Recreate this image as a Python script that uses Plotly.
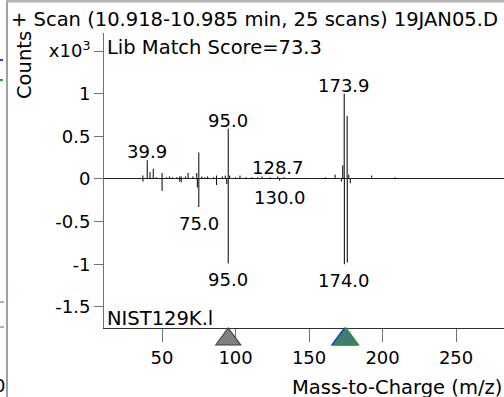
import plotly.graph_objects as go

# ---- data (x10^3 counts) ----
sample_mz = [36.9, 39.9, 41.8, 44.0, 46.0, 50.0, 53.0, 55.0, 57.0, 60.0, 62.0, 63.0,
             66.0, 67.7, 71.0, 73.6, 75.0, 77.0, 79.0, 81.0, 85.0, 87.0, 91.0, 93.0,
             95.0, 96.0, 100.0, 103.0, 107.0, 111.0, 115.0, 118.0, 123.5, 128.7, 133.0,
             140.0, 147.0, 155.0, 161.0, 167.7, 172.9, 173.9, 175.9, 177.0, 192.6, 208.5]
sample_int = [0.04, 0.22, 0.08, 0.12, 0.02, 0.07, 0.02, 0.03, 0.02, 0.02, 0.03, 0.03,
              0.03, 0.07, 0.03, 0.07, 0.31, 0.03, 0.02, 0.03, 0.02, 0.04, 0.03, 0.04,
              0.59, 0.04, 0.02, 0.04, 0.02, 0.02, 0.02, 0.03, 0.02, 0.03, 0.02,
              0.01, 0.01, 0.01, 0.02, 0.05, 0.16, 1.00, 0.74, 0.05, 0.04, 0.02]

library_mz = [37.0, 50.0, 62.0, 63.0, 74.0, 75.0, 87.0, 94.0, 95.0, 130.0, 172.0, 174.0, 176.0, 178.0]
library_int = [-0.03, -0.14, -0.03, -0.04, -0.10, -0.33, -0.07, -0.06, -0.99, -0.02, -0.03, -1.00, -0.98, -0.05]

sample_labels = [39.9, 95.0, 128.7, 173.9]
library_labels = [75.0, 95.0, 130.0, 174.0]

x_ticks = [50, 100, 150, 200, 250]
y_ticks = [-1.5, -1, -0.5, 0, 0.5, 1, 1.5]
y_ticktext = ["-1.5", "-1", "-0.5", "0", "0.5", "1", "x10<sup>3</sup>"]

title_text = "+ Scan (10.918-10.985 min, 25 scans) 19JAN05.D"
score_text = "Lib Match Score=73.3"
lib_text = "NIST129K.l"
marker_gray = [95.0]
marker_blue = [173.9]
marker_green = [175.2]

# ---- layout geometry ----
W, H = 504, 397
L, R, T, B = 104, 0, 33, 69
pw, ph = W - L - R, H - T - B
XR = [10.5, 282.6]
YR = [-1.747, 1.711]
FONT = "DejaVu Sans"
TXT = 19.5


def px(x):
    return (x - L) / pw


def py(y):
    return (H - B - y) / ph


def stems(mz, inten):
    xs, ys = [], []
    for m, v in zip(mz, inten):
        xs += [m, m, None]
        ys += [0, v, None]
    return xs, ys


fig = go.Figure()
sx, sy = stems(sample_mz, sample_int)
fig.add_trace(go.Scatter(x=sx, y=sy, mode="lines", line=dict(color="black", width=1),
                         hoverinfo="skip", showlegend=False))
lx, ly = stems(library_mz, library_int)
fig.add_trace(go.Scatter(x=lx, y=ly, mode="lines", line=dict(color="black", width=1),
                         hoverinfo="skip", showlegend=False))

ann = []
for lab in sample_labels:
    v = max(i for m, i in zip(sample_mz, sample_int) if abs(m - lab) < 0.3)
    ann.append(dict(x=lab, y=v, text=f"{lab:.1f}", showarrow=False, xanchor="center",
                    yanchor="bottom", yshift=-4, font=dict(family=FONT, size=18, color="black")))
for lab in library_labels:
    v = min(i for m, i in zip(library_mz, library_int) if abs(m - lab) < 0.3)
    ann.append(dict(x=lab, y=v, text=f"{lab:.1f}", showarrow=False, xanchor="center",
                    yanchor="top", yshift=-4, font=dict(family=FONT, size=18, color="black")))

ann += [
    dict(x=px(9), y=py(19), xref="paper", yref="paper", text=title_text, showarrow=False,
         xanchor="left", yanchor="middle", font=dict(family=FONT, size=TXT, color="black")),
    dict(x=px(105), y=py(48), xref="paper", yref="paper", text=score_text, showarrow=False,
         xanchor="left", yanchor="middle", font=dict(family=FONT, size=TXT, color="black")),
    dict(x=px(105), y=py(318), xref="paper", yref="paper", text=lib_text, showarrow=False,
         xanchor="left", yanchor="middle", font=dict(family=FONT, size=TXT, color="black")),
    dict(x=px(25), y=py(65), xref="paper", yref="paper", text="Counts", showarrow=False,
         textangle=-90, xanchor="center", yanchor="middle", font=dict(family=FONT, size=TXT, color="black")),
    dict(x=px(504), y=py(387), xref="paper", yref="paper", text="Mass-to-Charge (m/z)", showarrow=False,
         xanchor="right", yanchor="middle", font=dict(family=FONT, size=TXT, color="black")),
    dict(x=px(-8), y=py(385), xref="paper", yref="paper", text="0", showarrow=False,
         xanchor="left", yanchor="middle", font=dict(family=FONT, size=18, color="black")),
]

# triangles below the axis, at data x positions
half = 12.5 * (XR[1] - XR[0]) / pw
tip, base = py(328), py(345)


def tri(x, fill, line):
    return dict(type="path", xref="x", yref="paper", layer="above",
                path=f"M {x - half},{base} L {x},{tip} L {x + half},{base} Z",
                fillcolor=fill, line=dict(color=line, width=1.2))


shapes = [tri(x, "#808080", "#404040") for x in marker_gray]
shapes += [tri(x, "rgba(50,110,130,1)", "#2020ff") for x in marker_blue]
shapes += [tri(x, "rgba(70,125,115,0.85)", "#1a9a1a") for x in marker_green]

shapes += [
    dict(type="line", xref="paper", yref="paper", x0=px(7), x1=px(7), y0=py(0), y1=py(H),
         line=dict(color="#a0a0a0", width=2)),
    dict(type="line", xref="paper", yref="paper", x0=px(7), x1=px(W), y0=py(1), y1=py(1),
         line=dict(color="#b4b4b4", width=3)),
    dict(type="line", xref="paper", yref="paper", x0=px(0), x1=px(3), y0=py(60), y1=py(60),
         line=dict(color="#3030ff", width=2)),
    dict(type="line", xref="paper", yref="paper", x0=px(0), x1=px(3), y0=py(80), y1=py(80),
         line=dict(color="#30a030", width=2)),
    dict(type="line", xref="paper", yref="paper", x0=px(0), x1=px(4), y0=py(302), y1=py(302),
         line=dict(color="#2a7f7f", width=1)),
    dict(type="line", xref="paper", yref="paper", x0=px(0), x1=px(4), y0=py(327), y1=py(327),
         line=dict(color="#606060", width=1)),
]

fig.update_layout(
    width=W, height=H, margin=dict(l=L, r=R, t=T, b=B),
    paper_bgcolor="white", plot_bgcolor="white",
    annotations=ann, shapes=shapes, showlegend=False,
    xaxis=dict(range=XR, tickvals=x_ticks, ticktext=[str(v) for v in x_ticks],
               showgrid=False, zeroline=False, showline=True, linecolor="#303030", linewidth=1,
               ticks="outside", ticklen=13, tickcolor="#707070", tickwidth=1,
               tickfont=dict(family=FONT, size=18, color="black")),
    yaxis=dict(range=YR, tickvals=y_ticks, ticktext=y_ticktext,
               showgrid=False, zeroline=True, zerolinecolor="#202020", zerolinewidth=1,
               showline=True, linecolor="#707070", linewidth=1,
               ticks="outside", ticklen=9, tickcolor="#707070", tickwidth=1,
               tickfont=dict(family=FONT, size=18, color="black")),
)

fig.write_html("out.html", config={"displayModeBar": False},
               post_script="document.body.style.margin='0px';document.body.style.overflow='hidden';")
